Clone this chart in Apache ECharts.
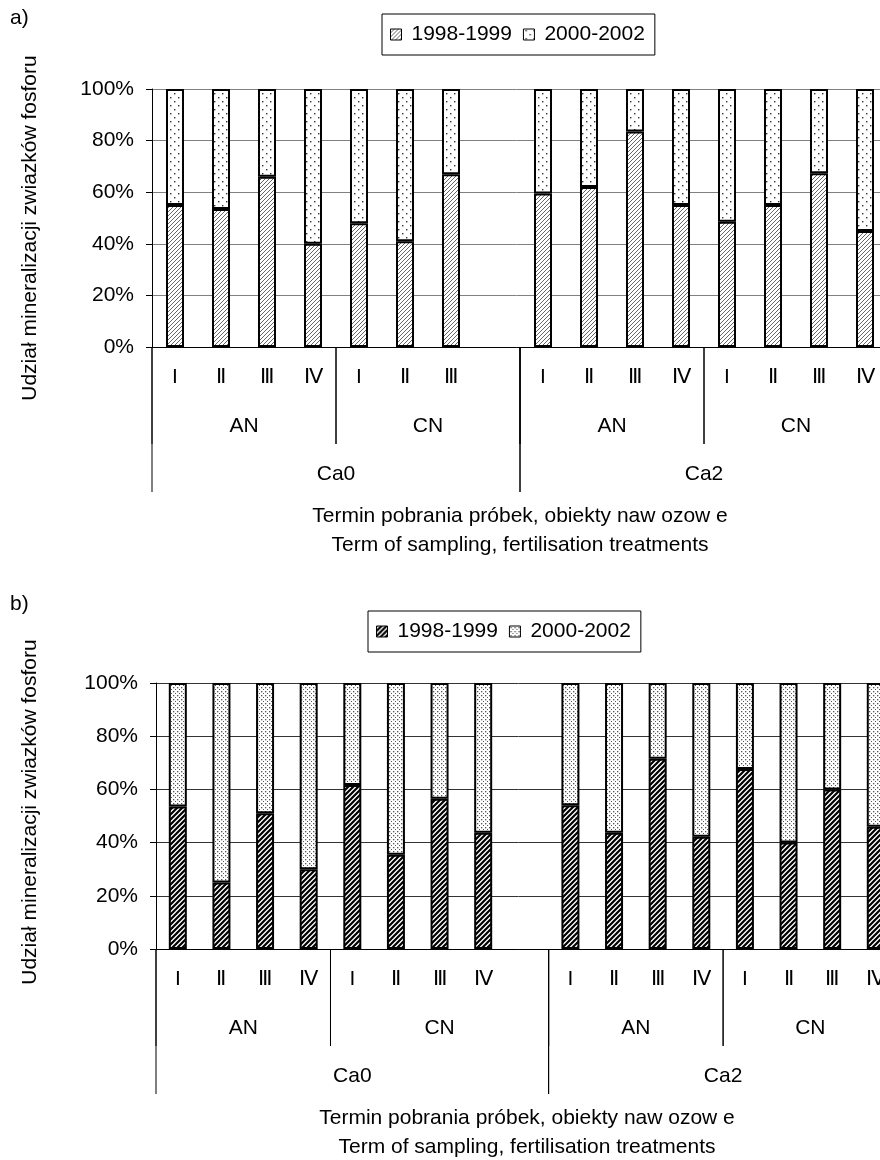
<!DOCTYPE html>
<html>
<head>
<meta charset="utf-8">
<script src="https://cdn.jsdelivr.net/npm/echarts@6/dist/echarts.min.js"></script>
<style>
  html, body { margin: 0; padding: 0; background: #fff; }
  .panel { width: 880px; }
  #chartA { height: 590px; }
  #chartB { height: 570px; }
</style>
</head>
<body>
<div id="chartA" class="panel"></div>
<div id="chartB" class="panel"></div>
<script>
// series names shown in both legends
const periods = ["1998-1999", "2000-2002"];

// panel a) - term of sampling per slot, '' is the empty slot
const termsA = ["I", "Ⅱ", "Ⅲ", "Ⅳ", "I", "Ⅱ", "Ⅲ", "", "I", "Ⅱ", "Ⅲ", "Ⅳ", "I", "Ⅱ", "Ⅲ", "Ⅳ"];
const earlyA = [55, 53.5, 66, 40, 48, 41, 67, null, 59.5, 62, 83.5, 55, 48.5, 55, 67.3, 45];
const lateA = [45, 46.5, 34, 60, 52, 59, 33, null, 40.5, 38, 16.5, 45, 51.5, 45, 32.7, 55];
const fertA = [["AN", 0, 3], ["CN", 4, 7], ["AN", 8, 11], ["CN", 12, 15]];
const limeA = [["Ca0", 0, 7], ["Ca2", 8, 15]];

// panel b)
const termsB = ["I", "Ⅱ", "Ⅲ", "Ⅳ", "I", "Ⅱ", "Ⅲ", "Ⅳ", "", "I", "Ⅱ", "Ⅲ", "Ⅳ", "I", "Ⅱ", "Ⅲ", "Ⅳ"];
const earlyB = [53.6, 25, 51, 30, 61.7, 35.4, 56.5, 43.7, null, 54, 43.7, 71.5, 42.2, 67.7, 40, 60, 46];
const lateB = [46.4, 75, 49, 70, 38.3, 64.6, 43.5, 56.3, null, 46, 56.3, 28.5, 57.8, 32.3, 60, 40, 54];
const fertB = [["AN", 0, 3], ["CN", 4, 8], ["AN", 9, 12], ["CN", 13, 16]];
const limeB = [["Ca0", 0, 8], ["Ca2", 9, 16]];

const yTicks = [0, 20, 40, 60, 80, 100];

const FONT = "Liberation Sans, Arial, sans-serif";
const FS = 21;

// small canvas tiles used as fill patterns
function tile(w, h, draw) {
  const c = document.createElement("canvas");
  c.width = w;
  c.height = h;
  const ctx = c.getContext("2d");
  ctx.fillStyle = "#fff";
  ctx.fillRect(0, 0, w, h);
  draw(ctx);
  return { image: c, repeat: "repeat" };
}
function hatch(size, width, color) {
  return tile(size, size, function (ctx) {
    ctx.strokeStyle = color;
    ctx.lineWidth = width;
    ctx.beginPath();
    ctx.moveTo(-size, size * 2); ctx.lineTo(size * 2, -size);
    ctx.moveTo(-size, size); ctx.lineTo(size, -size);
    ctx.moveTo(0, size * 2); ctx.lineTo(size * 2, 0);
    ctx.stroke();
  });
}
function dots(w, h, pts, size, color) {
  return tile(w, h, function (ctx) {
    ctx.fillStyle = color;
    pts.forEach(p => ctx.fillRect(p[0], p[1], size, size));
  });
}

function hierarchy(groups, lineLen, labelDy) {
  return {
    type: "custom",
    silent: true,
    clip: false,
    z: 1,
    data: groups.map(g => [g[1], g[2]]),
    renderItem: function (params, api) {
      const g = groups[params.dataIndex];
      const half = api.size([1, 0])[0] / 2;
      const p0 = api.coord([g[1], 0]);
      const p1 = api.coord([g[2], 0]);
      const x0 = p0[0] - half;
      const x1 = p1[0] + half;
      const y = p0[1];
      return {
        type: "group",
        children: [
          { type: "line", shape: { x1: x0, y1: y, x2: x0, y2: y + lineLen }, style: { stroke: "#000", lineWidth: 1 } },
          { type: "line", shape: { x1: x1, y1: y, x2: x1, y2: y + lineLen }, style: { stroke: "#000", lineWidth: 1 } },
          {
            type: "text", x: (x0 + x1) / 2, y: y + labelDy,
            style: { text: g[0], fill: "#000", font: FS + "px " + FONT, align: "center", verticalAlign: "middle" }
          }
        ]
      };
    }
  };
}

function buildOption(cfg) {
  const barStyle = function (fill) {
    return { color: fill, borderColor: "#000", borderWidth: 2 };
  };
  return {
    animation: false,
    textStyle: { fontFamily: FONT },
    legend: {
      data: periods,
      left: cfg.legendLeft,
      top: cfg.legendTop,
      borderColor: "#000",
      borderWidth: 1,
      padding: [10, 10, 10, 8],
      itemGap: 11,
      itemWidth: 11,
      itemHeight: 11,
      icon: "rect",
      itemStyle: { borderWidth: 1, borderColor: "#000" },
      textStyle: { fontSize: FS, color: "#000", fontFamily: FONT, padding: [0, 0, 0, 5] }
    },
    grid: {
      left: cfg.left, top: cfg.top, width: cfg.width, height: cfg.height,
      outerBoundsMode: "none", containLabel: false
    },
    xAxis: {
      type: "category",
      data: cfg.terms,
      boundaryGap: true,
      axisLine: { lineStyle: { color: "#000", width: 1 } },
      axisTick: { length: 48, lineStyle: { color: "#000" } },
      axisLabel: { color: "#000", fontSize: FS, fontFamily: FONT, margin: 20, interval: 0 }
    },
    yAxis: {
      type: "value",
      min: 0,
      max: 100,
      interval: 20,
      axisLine: { show: true, lineStyle: { color: "#000", width: 1 } },
      axisTick: { show: true, length: 6, lineStyle: { color: "#000" } },
      axisLabel: {
        color: "#000", fontSize: FS, fontFamily: FONT, margin: cfg.labelMargin,
        formatter: v => (yTicks.indexOf(v) >= 0 ? v + "%" : "")
      },
      splitLine: { lineStyle: { color: cfg.gridColor, width: 1 } }
    },
    series: [
      {
        name: periods[0], type: "bar", stack: "all", barWidth: cfg.barWidth,
        itemStyle: barStyle(cfg.fill1), data: cfg.early
      },
      {
        name: periods[1], type: "bar", stack: "all", barWidth: cfg.barWidth,
        itemStyle: barStyle(cfg.fill2), data: cfg.late
      },
      hierarchy(cfg.fert, 97, 79),
      hierarchy(cfg.lime, 145, 127.5)
    ],
    graphic: [
      {
        type: "text", left: 10, top: cfg.tagTop,
        style: { text: cfg.tag, fontSize: FS, fill: "#000", fontFamily: FONT }
      },
      {
        type: "text", x: 30, y: cfg.yTitleY, rotation: Math.PI / 2,
        style: {
          text: "Udział mineralizacji zwiazków fosforu",
          font: FS + "px " + FONT, fill: "#000", align: "center", verticalAlign: "middle"
        }
      },
      {
        type: "text", x: cfg.titleX, y: cfg.titleY,
        style: {
          text: "Termin pobrania próbek, obiekty naw ozow e\nTerm of sampling, fertilisation treatments",
          font: FS + "px " + FONT, fill: "#000", align: "center", verticalAlign: "top", lineHeight: 29
        }
      }
    ]
  };
}

document.addEventListener("DOMContentLoaded", function () {
  const chartA = echarts.init(document.getElementById("chartA"));
  chartA.setOption(buildOption({
    terms: termsA, early: earlyA, late: lateA, fert: fertA, lime: limeA,
    left: 152, top: 89, width: 736, height: 258, barWidth: 18, labelMargin: 18,
    legendLeft: 382, legendTop: 14, gridColor: "#808080",
    fill1: hatch(4, 0.9, "#555"), fill2: dots(8, 8, [[2, 1], [6, 5]], 1.4, "#333"),
    tag: "a)", tagTop: 8, yTitleY: 228, titleX: 520, titleY: 502
  }));

  const chartB = echarts.init(document.getElementById("chartB"));
  chartB.setOption(buildOption({
    terms: termsB, early: earlyB, late: lateB, fert: fertB, lime: limeB,
    left: 156, top: 93, width: 741.6, height: 266, barWidth: 18, labelMargin: 18,
    legendLeft: 368, legendTop: 21, gridColor: "#333",
    fill1: hatch(5, 2.2, "#000"), fill2: dots(4, 4, [[1, 1], [3, 3]], 1.3, "#555"),
    tag: "b)", tagTop: 4, yTitleY: 222, titleX: 527, titleY: 514
  }));
});
</script>
</body>
</html>
